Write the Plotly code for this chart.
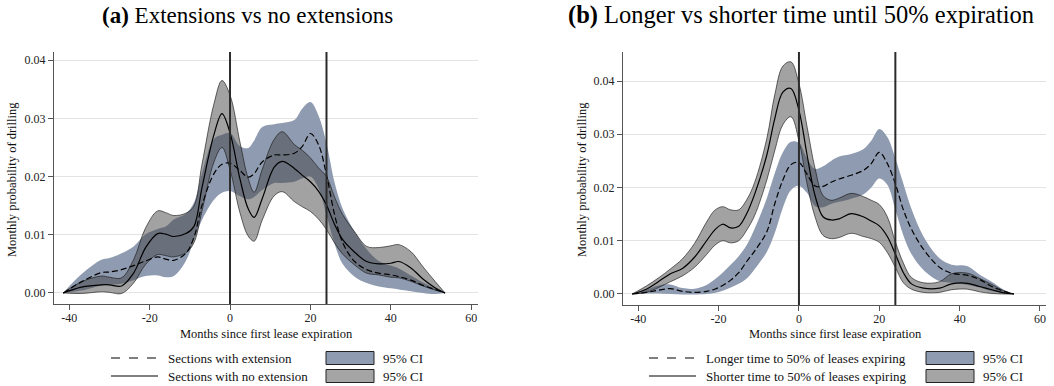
import plotly.graph_objects as go

W, H = 1054, 386

# ---------------- Panel (a): extensions vs no extensions ----------------
months_a = [-41.5, -37, -32, -30, -27, -24, -21, -18, -16, -14, -11, -9, -7, -4, -2, 0,
            2.5, 4.5, 6, 8, 11, 13, 16, 18, 20, 22, 24, 26, 28, 31, 34, 37, 40, 42, 45,
            48, 51, 53.5]
a_noext = [0, 0.0010, 0.0014, 0.0014, 0.0012, 0.0034, 0.0078, 0.0102, 0.0101, 0.0097,
           0.0102, 0.0114, 0.0180, 0.0272, 0.0308, 0.0275, 0.0195, 0.0145, 0.0130, 0.0162,
           0.0216, 0.0226, 0.0214, 0.0202, 0.0191, 0.0175, 0.0151, 0.0118, 0.0092, 0.0070,
           0.0054, 0.0050, 0.0051, 0.0054, 0.0043, 0.0024, 0.0009, 0]
a_noext_hi = [0, 0.0019, 0.0029, 0.0027, 0.0026, 0.0057, 0.0112, 0.0141, 0.0138, 0.0133,
              0.0137, 0.0149, 0.0220, 0.0325, 0.0365, 0.0340, 0.0258, 0.0197, 0.0173, 0.0212,
              0.0264, 0.0277, 0.0255, 0.0245, 0.0232, 0.0215, 0.0200, 0.0165, 0.0135, 0.0105,
              0.0080, 0.0078, 0.0081, 0.0083, 0.0071, 0.0045, 0.0020, 0]
a_noext_lo = [0, -0.0001, 0.0002, 0.0001, -0.0001, 0.0017, 0.0049, 0.0066, 0.0064, 0.0062,
              0.0069, 0.0086, 0.0140, 0.0225, 0.0250, 0.0212, 0.0137, 0.0098, 0.0089, 0.0125,
              0.0167, 0.0174, 0.0157, 0.0148, 0.0140, 0.0127, 0.0109, 0.0086, 0.0067, 0.0048,
              0.0034, 0.0031, 0.0027, 0.0026, 0.0020, 0.0012, 0.0005, 0]
a_ext = [0, 0.0019, 0.0035, 0.0036, 0.0040, 0.0047, 0.0055, 0.0062, 0.0058, 0.0056,
         0.0068, 0.0095, 0.0150, 0.0205, 0.0221, 0.0223, 0.0210, 0.0199, 0.0205, 0.0225,
         0.0237, 0.0237, 0.0240, 0.0252, 0.0274, 0.0255, 0.0203, 0.0135, 0.0087, 0.0054,
         0.0040, 0.0034, 0.0031, 0.0028, 0.0022, 0.0013, 0.0006, 0]
a_ext_hi = [0, 0.0032, 0.0057, 0.0060, 0.0068, 0.0080, 0.0101, 0.0110, 0.0114, 0.0126,
            0.0136, 0.0155, 0.0205, 0.0265, 0.0272, 0.0275, 0.0252, 0.0249, 0.0262, 0.0285,
            0.0290, 0.0292, 0.0297, 0.0317, 0.0328, 0.0305, 0.0257, 0.0190, 0.0145, 0.0105,
            0.0075, 0.0055, 0.0047, 0.0042, 0.0030, 0.0018, 0.0008, 0]
a_ext_lo = [0, 0.0004, 0.0013, 0.0014, 0.0016, 0.0022, 0.0029, 0.0030, 0.0027, 0.0029,
            0.0055, 0.0090, 0.0125, 0.0160, 0.0172, 0.0175, 0.0166, 0.0161, 0.0165, 0.0177,
            0.0189, 0.0189, 0.0191, 0.0197, 0.0200, 0.0180, 0.0134, 0.0085, 0.0050, 0.0028,
            0.0017, 0.0011, 0.0008, 0.0006, 0.0003, 0.0000, -0.0002, 0]

# ---------------- Panel (b): longer vs shorter time until 50% expiration ----------------
months_b = [-41.5, -38, -35, -32, -29, -26, -23, -21, -19, -17, -15, -13, -11, -8, -6, -4,
            -2, 0, 2, 4, 6, 8, 10, 13, 16, 18, 20, 22, 24, 26, 28, 31, 35, 38, 42, 45, 48,
            51, 53.5]
b_short = [0, 0.0009, 0.0023, 0.0038, 0.0048, 0.0069, 0.0100, 0.0120, 0.0131, 0.0124,
           0.0127, 0.0151, 0.0188, 0.0261, 0.0330, 0.0379, 0.0386, 0.0345, 0.0262, 0.0185,
           0.0145, 0.0139, 0.0141, 0.0151, 0.0145, 0.0137, 0.0128, 0.0108, 0.0075, 0.0040,
           0.0019, 0.0011, 0.0011, 0.0019, 0.0020, 0.0014, 0.0008, 0.0002, 0]
b_short_hi = [0, 0.0015, 0.0030, 0.0047, 0.0066, 0.0095, 0.0135, 0.0157, 0.0164, 0.0158,
              0.0158, 0.0177, 0.0210, 0.0292, 0.0375, 0.0428, 0.0436, 0.0395, 0.0315, 0.0236,
              0.0185, 0.0176, 0.0180, 0.0189, 0.0183, 0.0176, 0.0168, 0.0145, 0.0098, 0.0058,
              0.0031, 0.0021, 0.0023, 0.0038, 0.0039, 0.0029, 0.0018, 0.0006, 0]
b_short_lo = [0, 0.0003, 0.0012, 0.0023, 0.0034, 0.0050, 0.0074, 0.0091, 0.0100, 0.0096,
              0.0100, 0.0120, 0.0148, 0.0214, 0.0270, 0.0318, 0.0333, 0.0288, 0.0208, 0.0145,
              0.0110, 0.0104, 0.0106, 0.0114, 0.0108, 0.0104, 0.0097, 0.0078, 0.0050, 0.0021,
              0.0009, 0.0003, 0.0003, 0.0008, 0.0009, 0.0004, 0.0001, 0, 0]
b_long = [0, 0.0003, 0.0007, 0.0010, 0.0005, 0.0003, 0.0005, 0.0009, 0.0016, 0.0026,
          0.0040, 0.0061, 0.0081, 0.0117, 0.0170, 0.0214, 0.0243, 0.0247, 0.0225, 0.0203,
          0.0202, 0.0210, 0.0216, 0.0223, 0.0232, 0.0245, 0.0266, 0.0245, 0.0207, 0.0158,
          0.0122, 0.0084, 0.0050, 0.0039, 0.0035, 0.0027, 0.0014, 0.0005, 0]
b_long_hi = [0, 0.0008, 0.0016, 0.0018, 0.0011, 0.0010, 0.0017, 0.0027, 0.0040, 0.0055,
             0.0071, 0.0092, 0.0123, 0.0180, 0.0227, 0.0266, 0.0286, 0.0284, 0.0255, 0.0235,
             0.0240, 0.0250, 0.0258, 0.0263, 0.0272, 0.0288, 0.0310, 0.0295, 0.0255, 0.0207,
             0.0160, 0.0108, 0.0067, 0.0055, 0.0052, 0.0036, 0.0023, 0.0008, 0]
b_long_lo = [0, 0.0001, 0.0001, 0.0000, -0.0001, -0.0001, 0.0000, 0.0002, 0.0006, 0.0012,
             0.0019, 0.0029, 0.0047, 0.0079, 0.0115, 0.0162, 0.0195, 0.0203, 0.0190, 0.0165,
             0.0163, 0.0169, 0.0173, 0.0179, 0.0187, 0.0200, 0.0217, 0.0205, 0.0158, 0.0110,
             0.0075, 0.0045, 0.0024, 0.0021, 0.0017, 0.0012, 0.0005, 0.0002, 0]

x_ticks = [-40, -20, 0, 20, 40, 60]
x_ticktext = ["-40", "-20", "0", "20", "40", "60"]
y_ticks = [0, 0.01, 0.02, 0.03, 0.04]
ref_lines = [0, 24]

titles = ["<b>(a)</b> Extensions vs no extensions",
          "<b>(b)</b> Longer vs shorter time until 50% expiration"]
legend_labels = [["Sections with extension", "Sections with no extension"],
                 ["Longer time to 50% of leases expiring", "Shorter time to 50% of leases expiring"]]
ci_label = "95% CI"
x_title = "Months since first lease expiration"
y_title = "Monthly probability of drilling"

BLUE = "rgb(143,155,176)"
GRAY = "rgba(70,70,70,0.5)"
GRAY_BOX = "rgb(165,165,165)"
FONT = "Liberation Serif"

fig = go.Figure()


def add_panel(xs, dash_y, dash_hi, dash_lo, solid_y, solid_hi, solid_lo, xa, ya):
    # blue CI band (dashed series)
    fig.add_trace(go.Scatter(x=xs, y=dash_hi, mode="lines", line=dict(width=0, shape="spline", color=BLUE),
                             xaxis=xa, yaxis=ya, showlegend=False, hoverinfo="skip"))
    fig.add_trace(go.Scatter(x=xs, y=dash_lo, mode="lines", line=dict(width=0, shape="spline", color=BLUE),
                             fill="tonexty", fillcolor=BLUE, xaxis=xa, yaxis=ya, showlegend=False,
                             hoverinfo="skip"))
    # gray CI band (solid series) with thin outline
    fig.add_trace(go.Scatter(x=xs, y=solid_hi, mode="lines",
                             line=dict(width=0.7, shape="spline", color="rgba(20,20,20,0.9)"),
                             xaxis=xa, yaxis=ya, showlegend=False, hoverinfo="skip"))
    fig.add_trace(go.Scatter(x=xs, y=solid_lo, mode="lines",
                             line=dict(width=0.7, shape="spline", color="rgba(20,20,20,0.9)"),
                             fill="tonexty", fillcolor=GRAY, xaxis=xa, yaxis=ya, showlegend=False,
                             hoverinfo="skip"))
    # point estimates
    fig.add_trace(go.Scatter(x=xs, y=dash_y, mode="lines",
                             line=dict(width=1.2, shape="spline", color="black", dash="6px,3px"),
                             xaxis=xa, yaxis=ya, showlegend=False))
    fig.add_trace(go.Scatter(x=xs, y=solid_y, mode="lines",
                             line=dict(width=1.2, shape="spline", color="black"),
                             xaxis=xa, yaxis=ya, showlegend=False))


add_panel(months_a, a_ext, a_ext_hi, a_ext_lo, a_noext, a_noext_hi, a_noext_lo, "x", "y")
add_panel(months_b, b_long, b_long_hi, b_long_lo, b_short, b_short_hi, b_short_lo, "x2", "y2")

AX = "#555555"
common_x = dict(tickvals=x_ticks, ticktext=x_ticktext, ticks="outside", ticklen=5, tickcolor=AX,
                showline=True, linecolor=AX, linewidth=1, showgrid=False, zeroline=False,
                ticklabelstandoff=-2,
                tickfont=dict(family=FONT, size=12, color="#222"))
common_y = dict(tickvals=y_ticks, tickformat=".2f", ticks="outside", ticklen=5, tickcolor=AX,
                showline=True, linecolor=AX, linewidth=1, showgrid=True, gridcolor="#e3e3e3",
                gridwidth=1.3, zeroline=False, tickfont=dict(family=FONT, size=12, color="#222"))

# panel pixel boxes
pa = dict(x0=54, x1=478, y0=52, y1=304)
pb = dict(x0=623, x1=1046, y0=52, y1=305)


def dom_x(p):
    return [p["x0"] / W, p["x1"] / W]


def dom_y(p):
    return [(H - p["y1"]) / H, (H - p["y0"]) / H]


fig.update_layout(
    width=W, height=H, margin=dict(l=0, r=0, t=0, b=0),
    paper_bgcolor="white", plot_bgcolor="white", showlegend=False,
    font=dict(family=FONT, color="#111"),
    xaxis=dict(domain=dom_x(pa), range=[-43.8, 61.7], anchor="y", **common_x),
    yaxis=dict(domain=dom_y(pa), range=[-0.0019, 0.0414], anchor="x", **common_y),
    xaxis2=dict(domain=dom_x(pb), range=[-43.8, 61.5], anchor="y2", **common_x),
    yaxis2=dict(domain=dom_y(pb), range=[-0.00207, 0.04545], anchor="x2", **common_y),
)

shapes = []
for xr, yr in [("x", "y domain"), ("x2", "y2 domain")]:
    for v in ref_lines:
        shapes.append(dict(type="line", xref=xr, yref=yr, x0=v, x1=v, y0=0, y1=1,
                           line=dict(color="#2b2b2b", width=2), layer="above"))

annotations = []


def px(x):
    return x / W


def py(y):
    return 1 - y / H


# Titles
for t, cx, fs in zip(titles, [247.5, 800.5], [23, 24.5]):
    annotations.append(dict(text=t, x=px(cx), y=py(15), xref="paper", yref="paper",
                            showarrow=False, font=dict(family=FONT, size=fs, color="black"),
                            xanchor="center", yanchor="middle"))

# Axis titles
for cx, ycx in [(266.5, 12), (835.5, 582)]:
    annotations.append(dict(text=x_title, x=px(cx), y=py(334), xref="paper", yref="paper",
                            showarrow=False, font=dict(family=FONT, size=12.5, color="#111"),
                            xanchor="center", yanchor="middle"))
    annotations.append(dict(text=y_title, x=px(ycx), y=py(180), xref="paper", yref="paper",
                            showarrow=False, textangle=-90,
                            font=dict(family=FONT, size=12.5, color="#111"),
                            xanchor="center", yanchor="middle"))

# Legends (drawn manually, Stata style)
legend_pos = [dict(l0=111, l1=158, t=166, b0=326, b1=374, bt=381),
              dict(l0=649, l1=696, t=704, b0=926, b1=974, bt=981)]
row_y = [358, 376]
for i, lp in enumerate(legend_pos):
    for r, (dash, fillc) in enumerate([("dash", BLUE), ("solid", GRAY_BOX)]):
        yc = row_y[r]
        shapes.append(dict(type="line", xref="paper", yref="paper", x0=px(lp["l0"]), x1=px(lp["l1"]),
                           y0=py(yc), y1=py(yc), line=dict(color="black", width=1.2, dash=dash)))
        shapes.append(dict(type="rect", xref="paper", yref="paper", x0=px(lp["b0"]), x1=px(lp["b1"]),
                           y0=py(yc - 6.5), y1=py(yc + 6.5), fillcolor=fillc,
                           line=dict(color="#222", width=1)))
        annotations.append(dict(text=legend_labels[i][r], x=px(lp["t"]), y=py(yc), xref="paper",
                                yref="paper", showarrow=False, xanchor="left", yanchor="middle",
                                font=dict(family=FONT, size=13, color="#111")))
        annotations.append(dict(text=ci_label, x=px(lp["bt"]), y=py(yc), xref="paper",
                                yref="paper", showarrow=False, xanchor="left", yanchor="middle",
                                font=dict(family=FONT, size=13, color="#111")))

fig.update_layout(shapes=shapes, annotations=annotations)

fig.write_html("out.html", config={"displayModeBar": False},
               post_script="document.body.style.margin='0px';")
